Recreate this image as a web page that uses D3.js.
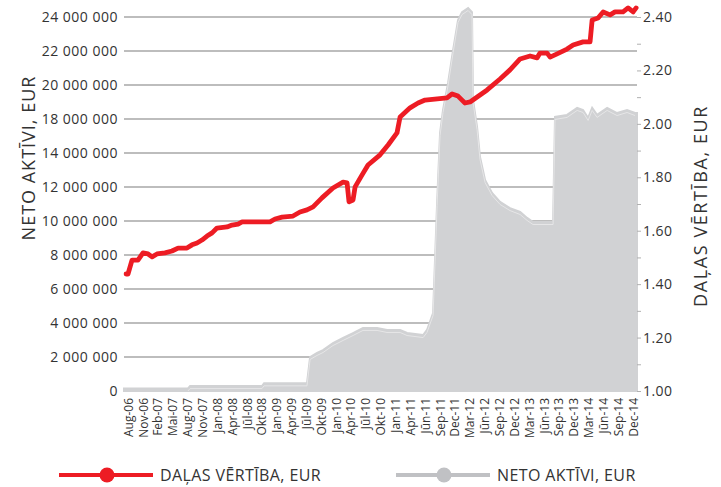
<!DOCTYPE html>
<html>
<head>
<meta charset="utf-8">
<script src="https://cdn.jsdelivr.net/npm/d3@7"></script>
<style>
  body { margin: 0; background: #fff; }
  text { font-family: 'Open Sans', sans-serif; fill: #333; }
</style>
</head>
<body>
<svg id="chart" width="721" height="487"></svg>
<script>
// month labels on the x axis (category positions 0..34)
let monthLabels = ['Aug-06','Nov-06','Feb-07','Mai-07','Aug-07','Nov-07','Jan-08','Apr-08','Jūl-08','Okt-08',
  'Jan-09','Apr-09','Jūl-09','Okt-09','Jan-10','Apr-10','Jūl-10','Okt-10','Jan-11','Apr-11','Jūn-11','Sep-11',
  'Dec-11','Mar-12','Jūn-12','Sep-12','Dec-12','Mar-13','Jūn-13','Sep-13','Dec-13','Mar-14','Jūn-14','Sep-14','Dec-14']

let leftTickLabels = ['0','2 000 000','4 000 000','6 000 000','8 000 000','10 000 000','12 000 000',
  '14 000 000','18 000 000','20 000 000','22 000 000','24 000 000']
let rightTickLabels = ['1.00','1.20','1.40','1.60','1.80','2.00','2.20','2.40']

// net assets, millions (position on x in label units)
let navPos = [-0.27,4.04,4.18,9.02,9.16,12.05,12.26,12.73,13.13,13.8,14.48,15.15,15.82,16.77,17.44,18.32,18.79,
  19.87,20.13,20.54,20.81,21.01,21.21,21.55,21.89,22.22,22.49,22.9,23.16,23.23,23.5,23.7,24.04,24.51,25.05,25.72,
  26.4,26.87,27.27,28.62,28.75,29.56,30.24,30.64,30.98,31.25,31.58,32.26,32.93,33.6,34.14,34.27]
let navMln = [0.15,0.15,0.29,0.29,0.45,0.45,2.0,2.24,2.41,2.82,3.12,3.41,3.71,3.71,3.59,3.59,3.41,
  3.29,3.59,4.59,11.06,15.18,16.53,18.12,20.06,21.82,22.29,22.53,22.29,17.12,15.53,13.76,12.41,11.65,11.12,10.76,
  10.53,10.18,9.94,9.94,16.12,16.24,16.65,16.53,16.06,16.65,16.24,16.65,16.35,16.53,16.35,16.35]

// unit value, EUR
let unitPos = [-0.13,0,0.27,0.67,1.01,1.35,1.62,1.95,2.49,2.96,3.37,3.97,4.31,4.65,4.98,5.32,5.66,5.99,6.67,7.0,
  7.41,7.68,9.56,9.9,10.37,11.11,11.58,12.05,12.46,13.06,13.8,14.48,14.75,14.88,15.15,15.29,15.76,16.16,16.97,
  17.51,18.11,18.32,18.99,19.53,20.0,21.48,21.82,22.22,22.49,22.69,23.03,24.18,25.05,25.72,26.4,27.07,27.54,
  27.74,28.22,28.42,28.89,29.56,29.97,30.64,31.11,31.25,31.65,31.99,32.46,32.79,33.33,33.67,34.01,34.21]
let unitVal = [1.438,1.438,1.49,1.49,1.517,1.513,1.502,1.513,1.517,1.524,1.535,1.535,1.547,1.554,1.565,1.58,1.592,
  1.61,1.614,1.621,1.625,1.633,1.633,1.644,1.651,1.655,1.67,1.678,1.689,1.723,1.76,1.782,1.779,1.708,1.715,1.764,
  1.809,1.846,1.884,1.921,1.966,2.026,2.06,2.078,2.089,2.097,2.112,2.104,2.089,2.078,2.082,2.127,2.168,2.202,
  2.243,2.254,2.247,2.265,2.265,2.25,2.262,2.28,2.295,2.307,2.307,2.389,2.396,2.419,2.408,2.419,2.419,2.434,
  2.419,2.434]

let svg = d3.select('#chart')

let xScale = d3.scaleLinear().domain([-0.27, 34.27]).range([124, 637])
let yLeft = d3.scaleLinear().domain([0, 22]).range([391, 17])
let yRight = d3.scaleLinear().domain([1, 2.4]).range([391, 17])

let navData = navPos.map((p, i) => ({ p: p, v: navMln[i] }))
let unitData = unitPos.map((p, i) => ({ p: p, v: unitVal[i] }))

// gridlines
svg.append('g')
    .selectAll('line')
    .data(d3.range(0, 23, 2))
    .enter()
    .append('line')
    .attr('x1', 124)
    .attr('x2', 637)
    .attr('y1', (d) => yLeft(d))
    .attr('y2', (d) => yLeft(d))
    .attr('stroke', '#a7a7a7')
    .attr('stroke-width', 1.3)

// net assets area
let area = d3.area()
    .x((d) => xScale(d.p))
    .y0(yLeft(0))
    .y1((d) => yLeft(d.v))

svg.append('path')
    .datum(navData)
    .attr('d', area)
    .attr('fill', '#d1d2d4')
    .attr('stroke', '#d1d2d4')
    .attr('stroke-width', 2)

let navLine = d3.line()
    .x((d) => xScale(d.p))
    .y((d) => yLeft(d.v) + 2.5)

svg.append('path')
    .datum(navData.slice(1, -1))
    .attr('d', navLine)
    .attr('fill', 'none')
    .attr('stroke', '#e6e6e7')
    .attr('stroke-width', 1)

// unit value line
let unitLine = d3.line()
    .x((d) => xScale(d.p))
    .y((d) => yRight(d.v))

svg.append('path')
    .datum(unitData)
    .attr('d', unitLine)
    .attr('fill', 'none')
    .attr('stroke', '#ed1c24')
    .attr('stroke-width', 4.8)
    .attr('stroke-linejoin', 'round')
    .attr('stroke-linecap', 'round')

// left axis
let leftAxis = d3.axisLeft(yLeft)
    .tickValues(d3.range(0, 23, 2))
    .tickFormat((d, i) => leftTickLabels[i])
    .tickSize(0)
    .tickPadding(6)

let gl = svg.append('g')
    .attr('transform', 'translate(124, 0)')
    .call(leftAxis)
gl.select('.domain').remove()
gl.selectAll('text')
    .style('font-size', '14px')
    .style('letter-spacing', '0.5px')
    .attr('fill', '#333')

// right axis
let rightAxis = d3.axisRight(yRight)
    .tickValues(d3.range(0, 15).map((k) => 1 + k * 0.1))
    .tickFormat((d, i) => i % 2 === 0 ? rightTickLabels[i / 2] : '')
    .tickSize(4)
    .tickPadding(2)

let gr = svg.append('g')
    .attr('transform', 'translate(637, 0)')
    .call(rightAxis)
gr.select('.domain').remove()
gr.selectAll('line').attr('stroke', '#b0b0b0')
gr.selectAll('text')
    .style('font-size', '14px')
    .style('letter-spacing', '0.4px')
    .attr('fill', '#333')

// x axis
let xAxis = d3.axisBottom(xScale)
    .tickValues(d3.range(monthLabels.length))
    .tickFormat((d) => monthLabels[d])
    .tickSize(0)

let gx = svg.append('g')
    .attr('transform', 'translate(0, 397)')
    .call(xAxis)
gx.select('.domain').remove()
gx.selectAll('text')
    .style('font-size', '12px')
    .attr('fill', '#333')
    .attr('text-anchor', 'end')
    .attr('transform', 'rotate(-90)')
    .attr('x', -1)
    .attr('y', 0)
    .attr('dx', 0)
    .attr('dy', '0.35em')

// axis titles
svg.append('text')
    .attr('transform', 'translate(35, 158) rotate(-90)')
    .attr('text-anchor', 'middle')
    .style('font-size', '18px')
    .style('letter-spacing', '1px')
    .attr('fill', '#222')
    .text('NETO AKTĪVI, EUR')

svg.append('text')
    .attr('transform', 'translate(707, 206) rotate(-90)')
    .attr('text-anchor', 'middle')
    .style('font-size', '18px')
    .style('letter-spacing', '1.6px')
    .attr('fill', '#222')
    .text('DAĻAS VĒRTĪBA, EUR')

// legend
let legendItems = [
  { label: 'DAĻAS VĒRTĪBA, EUR', color: '#ed1c24', x: 59 },
  { label: 'NETO AKTĪVI, EUR', color: '#c0c1c4', x: 396 }
]
let lg = svg.append('g')
legendItems.forEach((item) => {
  lg.append('line')
    .attr('x1', item.x).attr('x2', item.x + 94)
    .attr('y1', 475).attr('y2', 475)
    .attr('stroke', item.color)
    .attr('stroke-width', 4)
  lg.append('circle')
    .attr('cx', item.x + 48).attr('cy', 475).attr('r', 7.5)
    .attr('fill', item.color)
  lg.append('text')
    .attr('x', item.x + 101).attr('y', 481)
    .style('font-size', '16px')
    .style('letter-spacing', '0.4px')
    .attr('fill', '#222')
    .text(item.label)
})
</script>
</body>
</html>
